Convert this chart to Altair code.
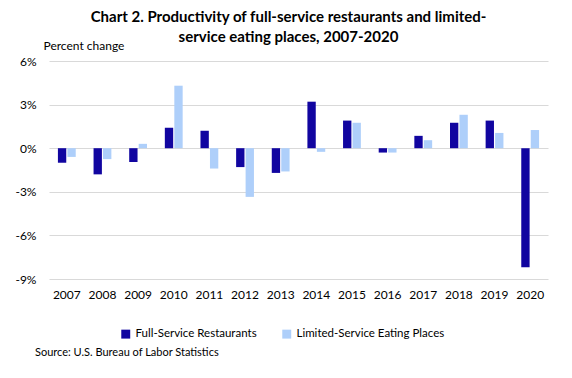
import altair as alt
import pandas as pd

years = [str(y) for y in range(2007, 2021)]
full_service = [-1.0, -1.8, -0.95, 1.4, 1.2, -1.3, -1.7, 3.2, 1.9, -0.3, 0.85, 1.75, 1.9, -8.2]
limited_service = [-0.6, -0.75, 0.3, 4.3, -1.4, -3.35, -1.6, -0.25, 1.75, -0.3, 0.55, 2.3, 1.05, 1.25]
series = ["Full-Service Restaurants", "Limited-Service Eating Places"]
colors = ["#1105a0", "#aecffa"]

rows = []
for i, y in enumerate(years):
    rows.append({"year": y, "series": series[0], "value": full_service[i], "order": 0})
    rows.append({"year": y, "series": series[1], "value": limited_service[i], "order": 1})
df = pd.DataFrame(rows)

FONT = "Lato"

bars = alt.Chart(df).mark_bar().encode(
    x=alt.X("year:N", sort=years, title=None,
            scale=alt.Scale(paddingInner=0.5, paddingOuter=0.25),
            axis=alt.Axis(labelAngle=0, ticks=False, domain=False, labelPadding=10,
                          labelFontSize=12, labelColor="#000000", labelFont=FONT)),
    xOffset=alt.XOffset("series:N", sort=series, scale=alt.Scale(paddingInner=0.12)),
    y=alt.Y("value:Q", title="Percent change",
            scale=alt.Scale(domain=[-9, 6], nice=False),
            axis=alt.Axis(values=[-9, -6, -3, 0, 3, 6], labelExpr="datum.value + '%'",
                          ticks=False, domain=False, gridColor="#d9d9d9", labelPadding=13,
                          labelFontSize=12, labelColor="#000000", labelFont=FONT,
                          titleAngle=0, titleAlign="left", titleBaseline="middle",
                          titleX=-6, titleY=-16, titleFontWeight="normal",
                          titleFontSize=12, titleFont=FONT, titleColor="#000000")),
    color=alt.Color("series:N", sort=series,
                    scale=alt.Scale(domain=series, range=colors),
                    legend=alt.Legend(orient="none", legendX=71, legendY=267,
                                      direction="horizontal", title=None,
                                      symbolType="square", symbolSize=80, symbolStrokeWidth=0,
                                      labelFontSize=11.5, labelFont=FONT, labelColor="#000000",
                                      columnPadding=24)),
)

source = alt.Chart(pd.DataFrame({"t": ["Source: U.S. Bureau of Labor Statistics"]})).mark_text(
    align="left", baseline="middle", fontSize=11, font=FONT, color="#000000"
).encode(text="t:N", x=alt.value(-14), y=alt.value(292))

chart = alt.layer(bars, source).properties(
    width=499, height=218,
    title=alt.TitleParams(
        ["Chart 2. Productivity of full-service restaurants and limited-",
         "service eating places, 2007-2020"],
        fontSize=15, fontWeight="bold", font=FONT, anchor="middle", color="#000000",
        offset=-6, dx=-10, lineHeight=20),
    padding={"left": 6, "top": 2, "right": 5, "bottom": 5},
).configure_view(stroke=None)

chart.save("out.html", embed_options={"renderer": "svg", "actions": False})
